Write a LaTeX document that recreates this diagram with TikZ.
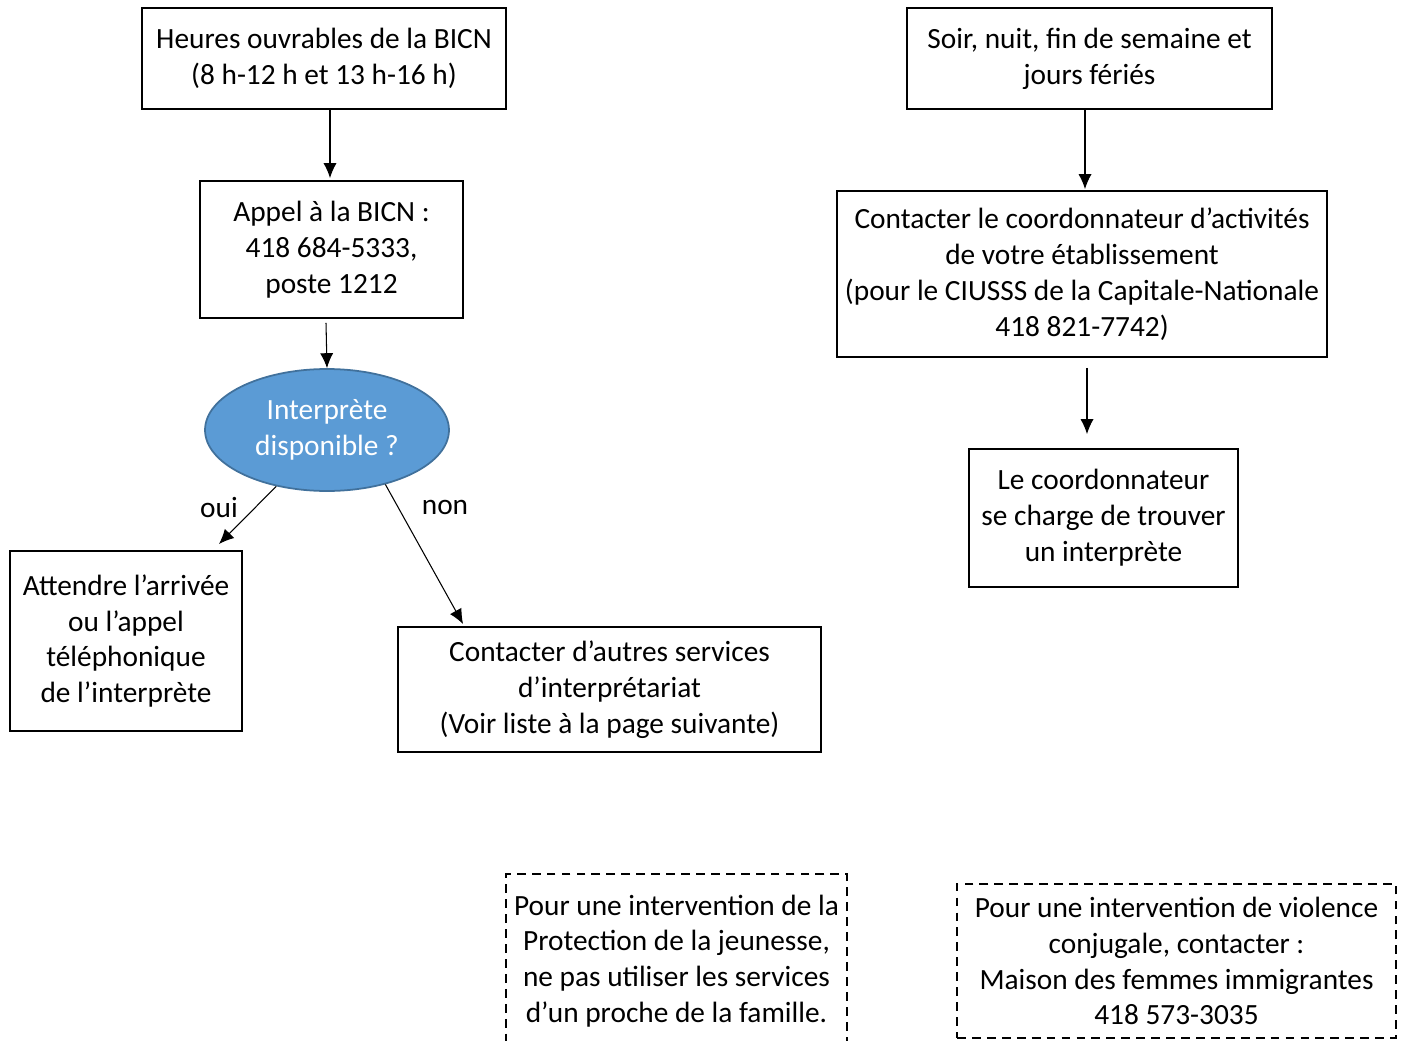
\documentclass[tikz,border=0pt]{standalone}
\usepackage{fontspec}
\setmainfont{Carlito}
\usepackage{tikz}
\usetikzlibrary{calc,arrows.meta,shapes.geometric}

\definecolor{bulle}{HTML}{5B9BD5}
\definecolor{bullebord}{HTML}{41719C}

\tikzset{
	boite/.style={draw, line width=1.1pt, align=center, inner sep=0pt},
	boitetir/.style={draw, line width=1.1pt, dash pattern=on 5pt off 3.5pt, align=center, inner sep=0pt},
	fleche/.style={-{Latex[length=8.5pt,width=7.5pt]}, line width=0.6pt},
}

\begin{document}
\begin{tikzpicture}[x=0.02cm,y=-0.02cm,font=\fontsize{16.7}{20.4}\selectfont]
				\useasboundingbox (0,0) rectangle (1408,1040);
				% colonne de gauche
				\node[boite, minimum width=7.28cm, minimum height=2.02cm] (heures) at (324,58.5) {Heures ouvrables de la BICN\\(8 h-12 h et 13 h-16 h)};
				\node[boite, minimum width=5.26cm, minimum height=2.74cm] (appel) at (331.5,249.5) {Appel à la BICN :\\418 684-5333,\\poste 1212};
				\node[ellipse, draw=bullebord, line width=1pt, fill=bulle, text=white, align=center, minimum width=4.88cm, minimum height=2.44cm, inner sep=0pt] (dispo) at (327,430) {Interprète\\disponible ?};
				\node[boite, minimum width=4.64cm, minimum height=3.6cm] (attendre) at (126,641) {Attendre l’arrivée\\ou l’appel\\téléphonique\\de l’interprète};
				\node[boite, minimum width=8.46cm, minimum height=2.5cm] (autres) at (609.5,689.5) {Contacter d’autres services\\d’interprétariat\\(Voir liste à la page suivante)};
				% colonne de droite
				\node[boite, minimum width=7.3cm, minimum height=2.02cm] (soir) at (1089.5,58.5) {Soir, nuit, fin de semaine et\\jours fériés};
				\node[boite, minimum width=9.8cm, minimum height=3.32cm] (coord) at (1082,274) {Contacter le coordonnateur d’activités\\de votre établissement\\(pour le CIUSSS de la Capitale-Nationale\\418 821-7742)};
				\node[boite, minimum width=5.38cm, minimum height=2.76cm] (trouver) at (1103.5,518) {Le coordonnateur\\se charge de trouver\\un interprète};
				% encadres du bas
				\node[boitetir, minimum width=6.82cm, minimum height=3.48cm] (jeunesse) at (676.5,961) {Pour une intervention de la\\Protection de la jeunesse,\\ne pas utiliser les services\\d’un proche de la famille.};
				\node[boitetir, minimum width=8.78cm, minimum height=3.08cm] (violence) at (1176.5,961) {Pour une intervention de violence\\conjugale, contacter :\\Maison des femmes immigrantes\\418 573-3035};
				% fleches
				\draw[fleche] ($(heures.south)+(6,0)$) -- ($(appel.north)+(-1.5,-2)$);
				\draw[fleche] ($(appel.south)+(-5.5,4)$) -- (dispo.north);
				\draw[fleche] (dispo.-132) -- ($(attendre.north east)+(-24,-6)$);
				\node (oui) at (219,508) {oui};
				\draw[fleche] (dispo.-43) -- ($(autres.north west)+(66,-2)$);
				\node (non) at (445,507) {non};
				\draw[fleche] ($(soir.south)+(-4.5,0)$) -- ($(coord.north)+(3,-1)$);
				\draw[fleche] ($(coord.south)+(5,10)$) -- ($(trouver.north)+(-16.5,-14)$);
			\end{tikzpicture}
\end{document}
